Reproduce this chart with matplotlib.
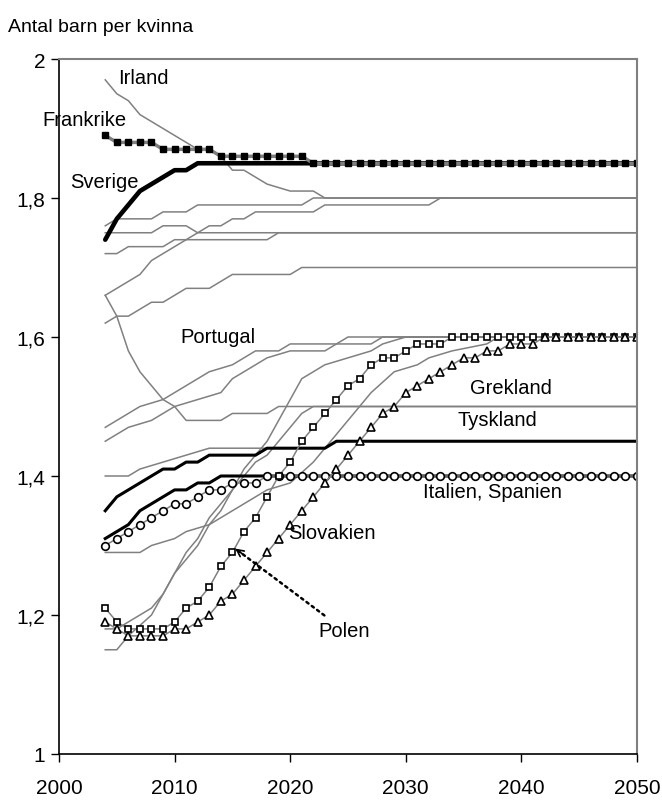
import matplotlib.pyplot as plt

plt.rcParams['font.family'] = ['Liberation Sans', 'DejaVu Sans']

# annual series 2004-2050
years = list(range(2004, 2051))

frankrike = [1.89] + [1.88] * 4 + [1.87] * 5 + [1.86] * 8 + [1.85] * 29
sverige = [1.74, 1.77, 1.79, 1.81, 1.82, 1.83, 1.84, 1.84] + [1.85] * 39
polen = [1.21, 1.19, 1.18, 1.18, 1.18, 1.18, 1.19, 1.21, 1.22, 1.24,
         1.27, 1.29, 1.32, 1.34, 1.37, 1.40, 1.42, 1.45, 1.47, 1.49,
         1.51, 1.53, 1.54, 1.56, 1.57, 1.57, 1.58, 1.59, 1.59, 1.59] + [1.60] * 17
slovakien = [1.19, 1.18, 1.17, 1.17, 1.17, 1.17, 1.18, 1.18, 1.19, 1.20,
             1.22, 1.23, 1.25, 1.27, 1.29, 1.31, 1.33, 1.35, 1.37, 1.39,
             1.41, 1.43, 1.45, 1.47, 1.49, 1.50, 1.52, 1.53, 1.54, 1.55,
             1.56, 1.57, 1.57, 1.58, 1.58, 1.59, 1.59, 1.59] + [1.60] * 9
spanien = [1.30, 1.31, 1.32, 1.33, 1.34, 1.35, 1.36, 1.36, 1.37, 1.38,
           1.38, 1.39, 1.39, 1.39] + [1.40] * 33
italien = [1.31, 1.32, 1.33, 1.35, 1.36, 1.37, 1.38, 1.38, 1.39, 1.39] + [1.40] * 37
eu = [1.35, 1.37, 1.38, 1.39, 1.40, 1.41, 1.41, 1.42, 1.42, 1.43,
      1.43, 1.43, 1.43, 1.43] + [1.44] * 6 + [1.45] * 27

# gray lines given as (year, value) break points
irland_x = [2004, 2005, 2006, 2007, 2008, 2009, 2010, 2011, 2012, 2013, 2014, 2015,
            2016, 2017, 2018, 2020, 2022, 2023, 2050]
irland_y = [1.97, 1.95, 1.94, 1.92, 1.91, 1.90, 1.89, 1.88, 1.87, 1.87, 1.86, 1.84,
            1.84, 1.83, 1.82, 1.81, 1.81, 1.80, 1.80]
g1_x = [2004, 2005, 2008, 2009, 2011, 2012, 2021, 2022, 2050]
g1_y = [1.76, 1.77, 1.77, 1.78, 1.78, 1.79, 1.79, 1.80, 1.80]
g2_x = [2004, 2008, 2009, 2011, 2012, 2050]
g2_y = [1.75, 1.75, 1.76, 1.76, 1.75, 1.75]
g3_x = [2004, 2005, 2006, 2009, 2010, 2018, 2019, 2050]
g3_y = [1.72, 1.72, 1.73, 1.73, 1.74, 1.74, 1.75, 1.75]
g4_x = [2004, 2005, 2006, 2007, 2008, 2009, 2010, 2011, 2012, 2013, 2014, 2015,
        2016, 2017, 2022, 2023, 2032, 2033, 2050]
g4_y = [1.66, 1.67, 1.68, 1.69, 1.71, 1.72, 1.73, 1.74, 1.75, 1.76, 1.76, 1.77,
        1.77, 1.78, 1.78, 1.79, 1.79, 1.80, 1.80]
g5_x = [2004, 2005, 2006, 2007, 2008, 2009, 2010, 2011, 2013, 2014, 2015, 2020, 2021, 2050]
g5_y = [1.62, 1.63, 1.63, 1.64, 1.65, 1.65, 1.66, 1.67, 1.67, 1.68, 1.69, 1.69, 1.70, 1.70]
portugal_x = [2004, 2005, 2006, 2007, 2008, 2009, 2010, 2011, 2014, 2015, 2018, 2019, 2050]
portugal_y = [1.66, 1.63, 1.58, 1.55, 1.53, 1.51, 1.50, 1.48, 1.48, 1.49, 1.49, 1.50, 1.50]
b1_x = [2004, 2005, 2006, 2007, 2009, 2010, 2011, 2012, 2013, 2015, 2016, 2017,
        2019, 2020, 2024, 2025, 2050]
b1_y = [1.47, 1.48, 1.49, 1.50, 1.51, 1.52, 1.53, 1.54, 1.55, 1.56, 1.57, 1.58,
        1.58, 1.59, 1.59, 1.60, 1.60]
b2_x = [2004, 2005, 2006, 2008, 2009, 2010, 2012, 2014, 2015, 2016, 2017, 2018,
        2020, 2023, 2024, 2027, 2028, 2050]
b2_y = [1.45, 1.46, 1.47, 1.48, 1.49, 1.50, 1.51, 1.52, 1.54, 1.55, 1.56, 1.57,
        1.58, 1.58, 1.59, 1.59, 1.60, 1.60]
tyskland_x = [2004, 2006, 2007, 2009, 2011, 2013, 2023, 2024, 2050]
tyskland_y = [1.40, 1.40, 1.41, 1.42, 1.43, 1.44, 1.44, 1.45, 1.45]
grekland_x = [2004, 2007, 2008, 2010, 2011, 2013, 2014, 2016, 2018, 2020, 2022, 2024,
              2026, 2027, 2029, 2031, 2032, 2034, 2037, 2038, 2050]
grekland_y = [1.29, 1.29, 1.30, 1.31, 1.32, 1.33, 1.34, 1.36, 1.38, 1.39, 1.42, 1.46,
              1.50, 1.52, 1.55, 1.56, 1.57, 1.58, 1.59, 1.60, 1.60]
s1_x = [2004, 2005, 2006, 2008, 2009, 2010, 2011, 2012, 2013, 2015, 2016, 2018,
        2020, 2021, 2023, 2025, 2027, 2028, 2030, 2050]
s1_y = [1.15, 1.15, 1.17, 1.20, 1.23, 1.26, 1.29, 1.31, 1.34, 1.38, 1.41, 1.45,
        1.51, 1.54, 1.56, 1.57, 1.58, 1.59, 1.60, 1.60]
s2_x = [2004, 2005, 2007, 2008, 2009, 2010, 2011, 2012, 2013, 2014, 2015, 2017,
        2018, 2019, 2020, 2021, 2022, 2050]
s2_y = [1.18, 1.18, 1.20, 1.21, 1.23, 1.26, 1.28, 1.30, 1.33, 1.35, 1.38, 1.42,
        1.43, 1.45, 1.47, 1.49, 1.50, 1.50]

gray = '#808080'

fig = plt.figure(figsize=(6.62, 8.03), dpi=100)
ax = fig.add_axes([59 / 662, 48 / 803, 578 / 662, 695 / 803])

for gx, gy in [(irland_x, irland_y), (g1_x, g1_y), (g2_x, g2_y), (g3_x, g3_y),
               (g4_x, g4_y), (g5_x, g5_y), (portugal_x, portugal_y),
               (b1_x, b1_y), (b2_x, b2_y), (tyskland_x, tyskland_y),
               (grekland_x, grekland_y), (s1_x, s1_y), (s2_x, s2_y)]:
    ax.plot(gx, gy, color=gray, lw=1.1)

ax.plot(years, eu, color='black', lw=2.2)
ax.plot(years, italien, color='black', lw=2.2)
ax.plot(years, spanien, color=gray, lw=1.1, marker='o', ms=5.5,
        mfc='white', mec='black', mew=1.2)
ax.plot(years, polen, color=gray, lw=1.1, marker='s', ms=5,
        mfc='white', mec='black', mew=1.2)
ax.plot(years, slovakien, color=gray, lw=1.1, marker='^', ms=6,
        mfc='white', mec='black', mew=1.2)
ax.plot(years, sverige, color='black', lw=3.3, solid_capstyle='round')
ax.plot(years, frankrike, color=gray, lw=2.5, marker='s', ms=5,
        mfc='black', mec='black')

ax.set_xlim(2000, 2050)
ax.set_ylim(1, 2)
ax.set_xticks(range(2000, 2051, 10))
ax.set_yticks([1, 1.2, 1.4, 1.6, 1.8, 2])
ax.set_yticklabels(['1', '1,2', '1,4', '1,6', '1,8', '2'])
ax.tick_params(direction='out', length=6, width=1, labelsize=15)
ax.tick_params(axis='x', pad=11)
ax.tick_params(axis='y', pad=4)
for side in ['top', 'right']:
    ax.spines[side].set_color(gray)
    ax.spines[side].set_linewidth(1.5)
for side in ['left', 'bottom']:
    ax.spines[side].set_linewidth(1.2)

fs = 14.5
ax.text(2005.1, 1.973, 'Irland', fontsize=fs, va='center')
ax.text(1998.6, 1.913, 'Frankrike', fontsize=fs, va='center')
ax.text(2000.95, 1.824, 'Sverige', fontsize=fs, va='center')
ax.text(2010.5, 1.601, 'Portugal', fontsize=fs, va='center')
ax.text(2035.55, 1.527, 'Grekland', fontsize=fs, va='center')
ax.text(2034.5, 1.482, 'Tyskland', fontsize=fs, va='center')
ax.text(2031.45, 1.377, 'Italien, Spanien', fontsize=fs, va='center')
ax.text(2019.85, 1.318, 'Slovakien', fontsize=fs, va='center')
ax.text(2022.4, 1.177, 'Polen', fontsize=fs, va='center')

ax.annotate('', xy=(2015.05, 1.298), xytext=(2023.15, 1.197),
            arrowprops=dict(arrowstyle='-', linestyle=':', lw=1.8, color='black'))
ax.annotate('', xy=(2015.05, 1.298), xytext=(2016.1, 1.285),
            arrowprops=dict(arrowstyle='->,head_length=0.5,head_width=0.25',
                            lw=1.2, color='black'))

fig.text(8 / 662, 1 - 27 / 803, 'Antal barn per kvinna', fontsize=14, va='center')

fig.savefig('out.png', dpi=100)
